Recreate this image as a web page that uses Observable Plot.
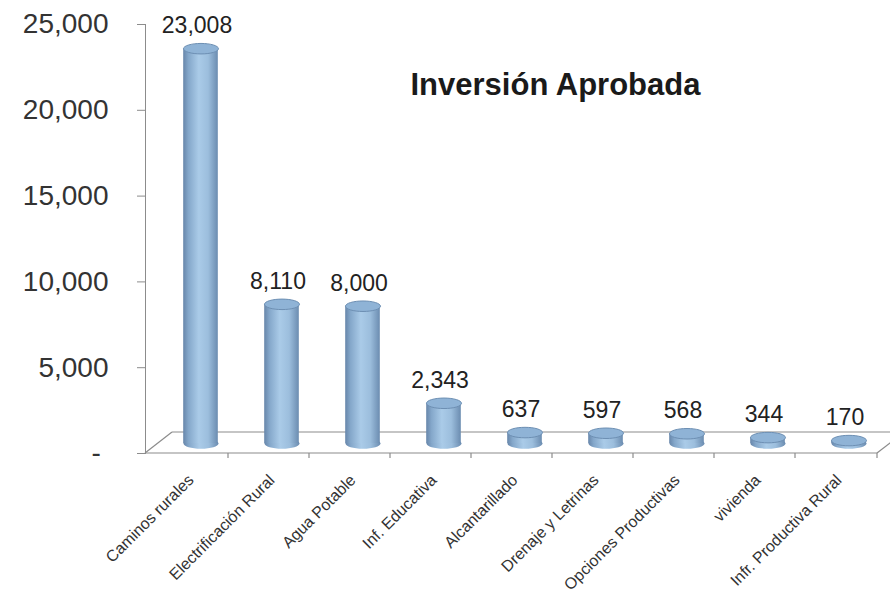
<!DOCTYPE html>
<html><head><meta charset="utf-8">
<script src="https://cdn.jsdelivr.net/npm/d3@7"></script>
<script src="https://cdn.jsdelivr.net/npm/@observablehq/plot@0.6"></script>
<style>
body{margin:0;background:#fff;}
[aria-label="y-axis tick"]{stroke:#8c8c8c;}
[aria-label="y-axis tick label"], [aria-label="x-axis tick label"]{fill:#333;}
</style>
</head><body><div id="chart"></div>
<script>
const categories = ["Caminos rurales", "Electrificación Rural", "Agua Potable", "Inf. Educativa", "Alcantarillado", "Drenaje y Letrinas", "Opciones Productivas", "vivienda", "Infr. Productiva Rural"];
const values = [23008, 8110, 8000, 2343, 637, 597, 568, 344, 170];
const yTicks = [0, 5000, 10000, 15000, 20000, 25000];
const title = "Inversión Aprobada";

const data = categories.map((c, i) => ({cat: c, value: values[i]}));
const fmt = d3.format(",");

// ellipse symbol for cylinder caps
const ellipse = {
  draw(ctx, size) {
    const rx = Math.sqrt(size / Math.PI), ry = rx * 0.3, k = 0.5523;
    ctx.moveTo(rx, 0);
    ctx.bezierCurveTo(rx, k * ry, k * rx, ry, 0, ry);
    ctx.bezierCurveTo(-k * rx, ry, -rx, k * ry, -rx, 0);
    ctx.bezierCurveTo(-rx, -k * ry, -k * rx, -ry, 0, -ry);
    ctx.bezierCurveTo(k * rx, -ry, rx, -k * ry, rx, 0);
    ctx.closePath();
  }
};

const DX = 13, DY = -10;

const plot = Plot.plot({
  width: 890, height: 593,
  marginLeft: 145, marginRight: 13, marginTop: 24, marginBottom: 140,
  style: {fontFamily: "Liberation Sans, Arial, sans-serif", background: "#fff", color: "#333"},
  x: {domain: categories, padding: 0},
  y: {domain: [0, 25000]},
  marks: [
    Plot.frame({anchor: "left", stroke: "#8c8c8c"}),
    Plot.axisY({ticks: yTicks, tickFormat: d => d === 0 ? "-\u00a0" : fmt(d), tickSize: 8, tickPadding: 29, fontSize: 28, label: null}),
    Plot.axisX({tickRotate: -45, tickSize: 0, tickPadding: 24, fontSize: 16, dx: 3, label: null}),
    Plot.dot(data, {x: "cat", y: () => 0, r: 17.5, symbol: ellipse, fill: "url(#cyl)", dx: DX, dy: DY}),
    Plot.barY(data, {x: "cat", y: "value", fill: "url(#cyl)", insetLeft: 23.2, insetRight: 23.2, dx: DX, dy: DY}),
    Plot.dot(data, {x: "cat", y: "value", r: 17.5, symbol: ellipse, fill: "#8fb3d6", stroke: "#6d8fb3", strokeWidth: 1, dx: DX, dy: DY}),
    Plot.text(data, {x: "cat", y: "value", text: d => fmt(d.value), dx: 9, dy: -33, fontSize: 23, fill: "#222"}),
    Plot.text([title], {frameAnchor: "top-left", dx: 265, dy: 61, textAnchor: "start", lineAnchor: "middle", fontSize: 31, fontWeight: "bold", fill: "#1a1a1a"})
  ]
});

const svg = d3.select(plot);
const defs = svg.append("defs");
const grad = defs.append("linearGradient").attr("id", "cyl").attr("x1", 0).attr("x2", 1).attr("y1", 0).attr("y2", 0);
[[0, "#6786aa"], [0.15, "#84a7ca"], [0.45, "#aacbe8"], [0.72, "#9cbedd"], [1, "#6b8cb0"]].forEach(([o, c]) =>
  grad.append("stop").attr("offset", o).attr("stop-color", c));

const xs = plot.scale("x"), ys = plot.scale("y");
const xa = xs.range[0], xb = xs.range[1], y0 = ys.apply(0);
const depX = 27, depY = -21;
const g = svg.insert("g", ":first-child").attr("stroke", "#8c8c8c").attr("stroke-width", 1.2).attr("fill", "none");
g.append("line").attr("x1", xa).attr("y1", y0).attr("x2", xb).attr("y2", y0);
g.append("line").attr("x1", xa + depX).attr("y1", y0 + depY).attr("x2", xb + depX).attr("y2", y0 + depY);
g.append("line").attr("x1", xa).attr("y1", y0).attr("x2", xa + depX).attr("y2", y0 + depY);
g.append("line").attr("x1", xb).attr("y1", y0).attr("x2", xb + depX).attr("y2", y0 + depY);
const bounds = categories.slice(1).map(c => xs.apply(c)).concat([xb]);
bounds.forEach(bx => g.append("line").attr("x1", bx).attr("y1", y0).attr("x2", bx).attr("y2", y0 + 5));

document.getElementById("chart").appendChild(plot);
</script>
</body></html>
